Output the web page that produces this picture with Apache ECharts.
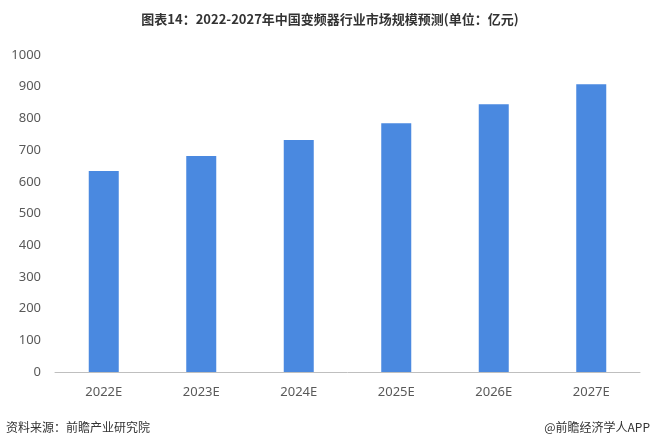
<!DOCTYPE html>
<html><head><meta charset="utf-8">
<script src="https://cdn.jsdelivr.net/npm/echarts@6/dist/echarts.min.js"></script>
<style>html,body{margin:0;padding:0;background:#fff}#c{width:660px;height:447px}</style>
</head><body><div id="c"></div>
<script>
const categories = ["2022E","2023E","2024E","2025E","2026E","2027E"];
const values = [634, 681, 732, 785, 845, 908];
const chart = echarts.init(document.getElementById('c'));
chart.setOption({
  backgroundColor:'#fff',
  title:{text:'图表14：2022-2027年中国变频器行业市场规模预测(单位：亿元)',left:'center',top:8,
    textStyle:{fontSize:13,fontWeight:'bold',color:'#333',fontFamily:'Noto Sans CJK SC'}},
  grid:{left:55,right:20,top:55,bottom:75},
  xAxis:{type:'category',data:categories,axisTick:{show:false},
    axisLine:{lineStyle:{color:'#bfbfbf'}},
    axisLabel:{color:'#595959',fontSize:13,margin:14,fontFamily:'Noto Sans'}},
  yAxis:{type:'value',min:0,max:1000,interval:100,splitLine:{show:false},
    axisLine:{show:false},axisTick:{show:false},
    axisLabel:{color:'#595959',fontSize:13,margin:14,fontFamily:'Noto Sans',formatter:v=>String(v)}},
  series:[{type:'bar',data:values,barWidth:30,itemStyle:{color:'#4a89e0'}}],
  graphic:[
    {type:'text',left:6,top:421,style:{text:'资料来源：前瞻产业研究院',fontSize:12,fill:'#333',fontFamily:'Noto Sans CJK SC'}},
    {type:'text',right:10,top:421,style:{text:'@前瞻经济学人APP',fontSize:12,fill:'#333',fontFamily:'Noto Sans CJK SC'}}
  ]
});
</script></body></html>
